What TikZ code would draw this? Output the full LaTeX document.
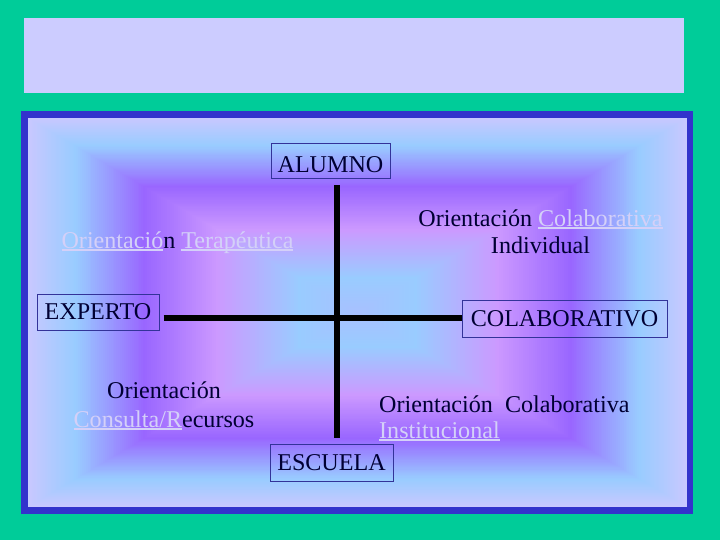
\documentclass[tikz,border=0pt]{standalone}
\usepackage{fontspec}
\setmainfont{Liberation Serif}
\definecolor{teal0}{HTML}{00CC99}
\definecolor{frameblue}{HTML}{3333CC}
\definecolor{toplav}{HTML}{CCCCFF}
\definecolor{gA}{HTML}{C8C8FF}
\definecolor{gB}{HTML}{99CCFF}
\definecolor{gC}{HTML}{9966FF}
\definecolor{gD}{HTML}{CC99FF}
\definecolor{gE}{HTML}{99CCFF}
\definecolor{gF}{HTML}{A8C0FF}
\definecolor{boxline}{HTML}{333399}
\definecolor{txt}{HTML}{000033}
\definecolor{faded}{HTML}{D4D0F8}
\newcommand\fu[1]{{\color{faded}\setbox0\hbox{#1}\rlap{\rule[-2.6pt]{\wd0}{1.4pt}}\box0}}
\begin{document}
\begin{tikzpicture}[x=1pt,y=-1pt,
  lbl/.style={font=\fontsize{24.1}{27}\selectfont, text=txt, inner sep=0pt},
  boxed/.style={lbl, draw=boxline, line width=1pt},
  axis/.style={line width=6pt, draw=black}]
\useasboundingbox (0,0) rectangle (720,540);
\fill[teal0] (0,0) rectangle (720,540);
\fill[toplav] (24,18) rectangle (684,93);
\fill[frameblue] (21,111) rectangle (693,514);
\foreach \ca/\cb/\ta/\tb in {gA/gB/0/0.14, gB/gC/0.14/0.35, gC/gD/0.35/0.57, gD/gE/0.57/0.82, gE/gF/0.82/1}{
  \foreach \k in {0,...,35}{
    \pgfmathsetmacro\t{\ta+(\tb-\ta)*\k/36}
    \pgfmathtruncatemacro\p{100*\k/36}
    \fill[\cb!\p!\ca] ({357.5-329.5*(1-\t)},{312.5-194.5*(1-\t)}) rectangle ({357.5+329.5*(1-\t)},{312.5+194.5*(1-\t)});
  }}
\node[boxed, minimum width=119pt, minimum height=35pt, text height=22.5pt, text depth=0pt] (alumno) at (330.5,161.5) {ALUMNO};
\node[boxed, minimum width=122pt, minimum height=36pt] (experto) at (98,312) {EXPERTO};
\node[boxed, minimum width=205pt, minimum height=37pt] (colab) at (564.5,318.5) {COLABORATIVO};
\node[boxed, minimum width=123pt, minimum height=37pt] (escuela) at (331.5,462.5) {ESCUELA};
\coordinate (cross) at (336.5,318);
\draw[axis, shorten <=4pt] (experto.east |- cross) -- (colab.west |- cross);
\draw[axis, shorten <=6pt, shorten >=6pt] (cross |- alumno.south) -- (cross |- escuela.north);
\node[lbl, anchor=base] (terap) at (177.5,248) {\fu{Orientació}n \fu{Terapéutica}};
\node[lbl, anchor=base, align=center] (colind) at (540.5,253) {Orientación \fu{Colaborativa}\\Individual};
\node[lbl, anchor=base, align=center] (consult) at (164,427) {Orientación\\[2pt]\fu{Consulta/R}ecursos};
\node[lbl, anchor=base west, align=left] (inst) at (379,438) {Orientación~~Colaborativa\\[-1pt]\fu{Institucional}};
\end{tikzpicture}
\end{document}
